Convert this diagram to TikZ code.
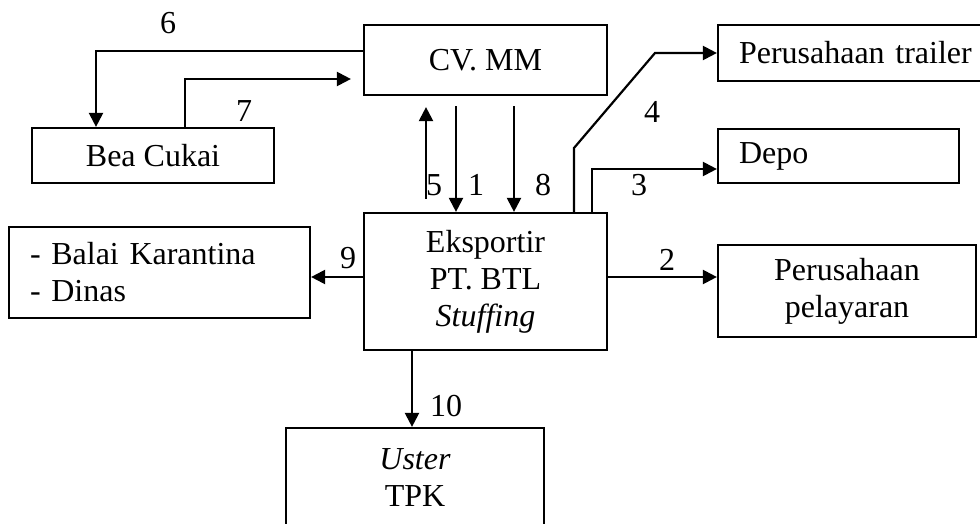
\documentclass[tikz,border=0pt]{standalone}
\usepackage{fontspec}
\setmainfont{Liberation Serif}
\usetikzlibrary{arrows.meta,calc}
\begin{document}
\begin{tikzpicture}[x=1pt,y=-1pt,
  box/.style={draw, line width=2.2pt, inner sep=0pt, align=center,
    font=\fontsize{32}{37}\selectfont},
  lbox/.style={box, align=left, inner xsep=21pt},
  wire/.style={line width=2.2pt},
  link/.style={wire, -{Triangle[length=14pt,width=14pt]}},
  num/.style={inner sep=0pt, font=\fontsize{32}{37}\selectfont}]
\clip (0,0) rectangle (980,524);

% boxes
\node[box, minimum width=243pt, minimum height=70pt] (cv) at (485.5,60) {CV. MM};
\node[box, minimum width=242pt, minimum height=55pt] (bea) at (153,155.5) {Bea Cukai};
\node[lbox, text width=250pt, minimum height=56pt] (trailer) at (864,53) {Perusahaan trailer};
\node[lbox, text width=199pt, minimum height=54pt] (depo) at (838.5,156) {Depo};
\node[box, minimum width=258pt, minimum height=92pt] (pel) at (847,291) {Perusahaan\\pelayaran};
\node[box, minimum width=243pt, minimum height=137pt] (eks) at (485.5,281.5) {Eksportir\\PT. BTL\\\textit{Stuffing}};
\node[lbox, text width=259pt, minimum height=91pt] (balai) at (159.5,272.5) {- Balai Karantina\\- Dinas};
\node[box, minimum width=258pt, minimum height=100pt] (tpk) at (415,478) {\textit{Uster}\\TPK};

% bend points and connector columns
\coordinate (k6) at (96,51);
\coordinate (k7) at (185,79);
\coordinate (a5) at (426,0);
\coordinate (a1) at (456,0);
\coordinate (a8) at (514,0);
\coordinate (b4) at (574,148);
\coordinate (c4) at (655,53);
\coordinate (b3) at (592,169);
\coordinate (r2) at (0,277);
\coordinate (a10) at (412,0);

% connectors
\draw[link] (cv.west |- k6) -- (k6) -- (bea.north -| k6);
\draw[link] (bea.north -| k7) -- (k7) -- ($(cv.west |- k7)+(-12,0)$);
\draw[link] ($(eks.north -| a5)+(0,-13)$) -- ($(cv.south -| a5)+(0,11)$);
\draw[link] ($(cv.south -| a1)+(0,10)$) -- (eks.north -| a1);
\draw[link] ($(cv.south -| a8)+(0,10)$) -- (eks.north -| a8);
\draw[link] (eks.north -| b4) -- (b4) -- (c4) -- (trailer.west);
\draw[link] (eks.north -| b3) -- (b3) -- (depo.west |- b3);
\draw[link] (eks.east |- r2) -- (pel.west |- r2);
\draw[link] (eks.west |- r2) -- (balai.east |- r2);
\draw[link] (eks.south -| a10) -- (tpk.north -| a10);

% step numbers
\node[num] (n6) at (168,23) {6};
\node[num] (n7) at (244,111) {7};
\node[num] (n5) at (434,185) {5};
\node[num] (n1) at (476,185) {1};
\node[num] (n8) at (543,185) {8};
\node[num] (n4) at (652,112) {4};
\node[num] (n3) at (639,185) {3};
\node[num] (n2) at (667,260) {2};
\node[num] (n9) at (348,258) {9};
\node[num] (n10) at (446,406) {10};
\end{tikzpicture}
\end{document}
